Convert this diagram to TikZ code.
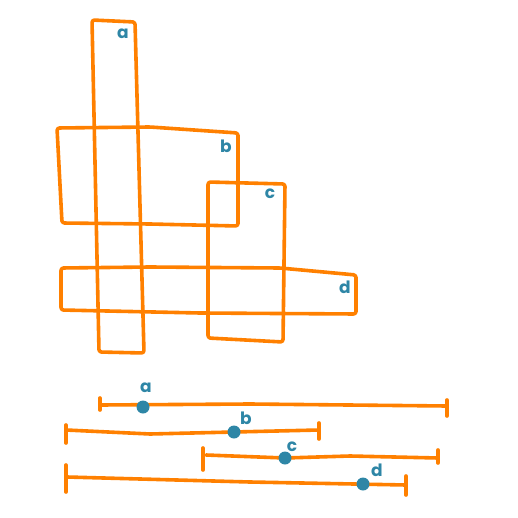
\documentclass[tikz,border=0pt]{standalone}
\usepackage{fontspec}
\setmainfont{Poppins}
\definecolor{sketchorange}{HTML}{FF8000}
\definecolor{sketchblue}{HTML}{2E86A6}
\tikzset{
  box/.style={draw=sketchorange, line width=3.6pt, rounded corners=2.5pt, line join=round},
  seg/.style={draw=sketchorange, line width=3.6pt, line cap=round, line join=round},
  lbl/.style={text=sketchblue, font=\bfseries\fontsize{17}{17}\selectfont, inner sep=0pt},
  dot/.style={circle, fill=sketchblue, minimum size=13pt, inner sep=0pt},
}
\begin{document}
\begin{tikzpicture}[x=1pt,y=-1pt]
\useasboundingbox (0,0) rectangle (517,518);
% rectangles
\draw[box] (92,20) -- (135,22) -- (144,353) -- (99,352) -- cycle;
\draw[box] (57,128) -- (150,127) -- (238,133) -- (238,226) -- (150,224) -- (62,223) -- cycle;
\draw[box] (208,182) -- (285,184) -- (283,342) -- (208,338) -- cycle;
\draw[box] (61,268) -- (150,267) -- (280,268) -- (356,275) -- (356,314) -- (200,313) -- (61,310) -- cycle;
\node[lbl] (la) at (123,34) {a};
\node[lbl] (lb) at (226,146) {b};
\node[lbl] (lc) at (270,194) {c};
\node[lbl] (ld) at (345,287) {d};
% segments
\draw[seg] (100,405) -- (250,404) -- (447,406);
\draw[seg] (100,398) -- (100,410);
\draw[seg] (447,400) -- (447,416);
\node[dot] (da) at (143,407) {};
\node[lbl] (sa) at (146,388) {a};

\draw[seg] (66,430) -- (150,434) -- (234,432) -- (319,430);
\draw[seg] (66,425) -- (66,443);
\draw[seg] (319,423) -- (319,439);
\node[dot] (db) at (234,432) {};
\node[lbl] (sb) at (246,418) {b};

\draw[seg] (206,455) -- (285,458) -- (350,456) -- (438,458);
\draw[seg] (203,448) -- (203,470);
\draw[seg] (438,450) -- (438,463);
\node[dot] (dc) at (285,458) {};
\node[lbl] (sc) at (292,447) {c};

\draw[seg] (67,477) -- (250,482) -- (406,485);
\draw[seg] (66,465) -- (66,492);
\draw[seg] (406,476) -- (406,495);
\node[dot] (dd) at (363,484) {};
\node[lbl] (sd) at (377,470) {d};
\end{tikzpicture}
\end{document}
